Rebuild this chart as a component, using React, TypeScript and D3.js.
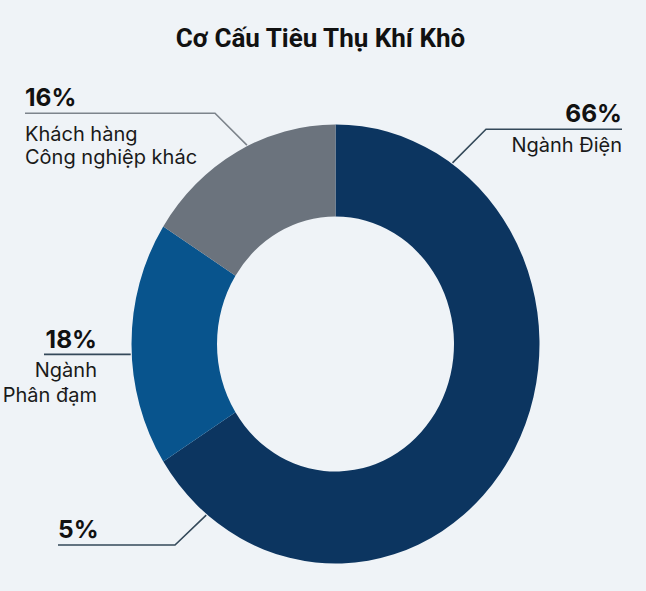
import { useEffect, useRef } from "react";
import * as d3 from "d3";

// ring slices (clockwise from 12 o'clock)
const SLICE_NAMES = ["Ngành Điện", "Ngành Phân đạm", "Khách hàng Công nghiệp khác"];
const SLICE_VALUES = [66, 18, 16];
const SLICE_COLORS = ["#0c3560", "#08548d", "#6b737d"];

// callouts around the ring
const CALLOUT_PCT = ["66%", "5%", "18%", "16%"];
const CALLOUT_TEXT = [["Ngành Điện"], [], ["Ngành", "Phân đạm"], ["Khách hàng", "Công nghiệp khác"]];

const TITLE = "Cơ Cấu Tiêu Thụ Khí Khô";

// callout layout: angle where the leader touches the ring, elbow, line end, text
type Layout = {
  deg: number;
  elbow: [number, number] | null;
  endX: number;
  textX: number;
  anchor: "start" | "end";
  pctY: number;
  lineY: number[];
  stroke: string;
};
const LAYOUT: Layout[] = [
  { deg: 34.8, elbow: [486, 129.3], endX: 622, textX: 622, anchor: "end", pctY: 121.5, lineY: [152], stroke: "#34495a" },
  { deg: 219.1, elbow: [175, 545], endX: 58, textX: 58, anchor: "start", pctY: 537.5, lineY: [], stroke: "#34495a" },
  { deg: 267.3, elbow: null, endX: 44, textX: 97, anchor: "end", pctY: 347.5, lineY: [377, 402], stroke: "#34495a" },
  { deg: 334.4, elbow: [215, 113.3], endX: 25, textX: 25, anchor: "start", pctY: 106, lineY: [140.5, 164], stroke: "#7d848c" },
];

const W = 646;
const H = 591;
const CX = 335.5;
const CY = 344;
const R_OUT = 204;
const R_IN = 118.5;
const STRETCH = 1.076; // ring is a bit taller than wide

export default function App() {
  const ref = useRef<SVGSVGElement | null>(null);

  useEffect(() => {
    const svg = d3.select(ref.current);
    svg.selectAll("*").remove();

    svg.append("rect").attr("width", W).attr("height", H).attr("fill", "#eff3f7");

    svg
      .append("text")
      .attr("x", 320.5)
      .attr("y", 47)
      .attr("text-anchor", "middle")
      .attr("font-family", "Roboto, sans-serif")
      .attr("font-weight", 700)
      .attr("font-size", 26)
      .attr("fill", "#111")
      .text(TITLE);

    const pie = d3
      .pie<number>()
      .sort(null)
      .value((d) => d);
    const arc = d3.arc<d3.PieArcDatum<number>>().innerRadius(R_IN).outerRadius(R_OUT);

    const ring = svg
      .append("g")
      .attr("transform", `translate(${CX},${CY}) scale(1,${STRETCH})`);
    ring
      .selectAll("path")
      .data(pie(SLICE_VALUES))
      .join("path")
      .attr("d", arc)
      .attr("fill", (_, i) => SLICE_COLORS[i])
      .append("title")
      .text((d, i) => `${SLICE_NAMES[i]}: ${d.data}%`);

    const callouts = svg.append("g");
    CALLOUT_PCT.forEach((pct, i) => {
      const L = LAYOUT[i];
      const [px, py] = d3.pointRadial((L.deg * Math.PI) / 180, R_OUT + 1);
      const ax = CX + px;
      const ay = CY + py * STRETCH;
      const pts: [number, number][] = [[ax, ay]];
      const lineY = L.elbow ? L.elbow[1] : ay;
      if (L.elbow) pts.push(L.elbow);
      pts.push([L.endX, lineY]);
      callouts
        .append("path")
        .attr("d", d3.line()(pts))
        .attr("fill", "none")
        .attr("stroke", L.stroke)
        .attr("stroke-width", 1.6);

      callouts
        .append("text")
        .attr("x", L.textX)
        .attr("y", L.pctY)
        .attr("text-anchor", L.anchor)
        .attr("font-family", "Inter, sans-serif")
        .attr("font-weight", 700)
        .attr("font-size", 24.5)
        .attr("fill", "#111")
        .text(pct);

      CALLOUT_TEXT[i].forEach((t, j) => {
        callouts
          .append("text")
          .attr("x", L.textX)
          .attr("y", L.lineY[j])
          .attr("text-anchor", L.anchor)
          .attr("font-family", "Inter, sans-serif")
          .attr("font-size", 20)
          .attr("fill", "#1a1a1a")
          .text(t);
      });
    });
  }, []);

  return (
    <div style={{ position: "fixed", left: 0, top: 0 }}>
      <svg ref={ref} width={W} height={H} style={{ display: "block" }} />
    </div>
  );
}
